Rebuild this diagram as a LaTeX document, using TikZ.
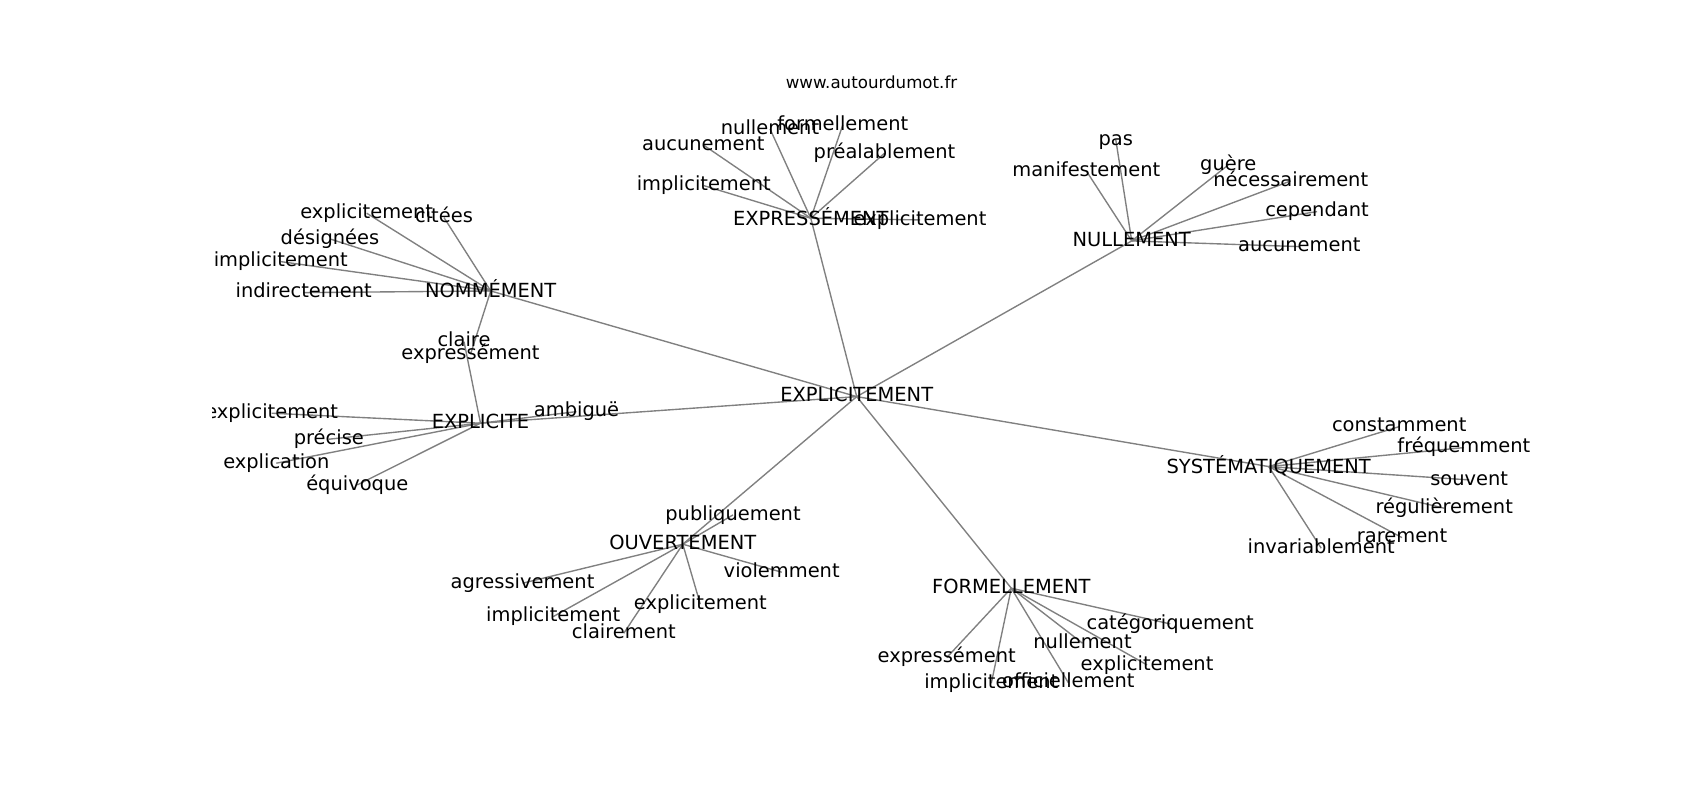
\documentclass[tikz,border=0pt]{standalone}
\usepackage{fontspec}
\setmainfont{DejaVu Sans}
\pgfdeclarelayer{bg}
\pgfsetlayers{bg,main}
\begin{document}
\begin{tikzpicture}[x=0.5pt,y=-0.5pt,
  lbl/.style={font=\fontsize{9.72}{11}\selectfont, inner sep=0pt, outer sep=0pt,
    text height=7.39pt, text depth=2.29pt, anchor=base},
  acc/.style={text height=9.04pt},
  edge/.style={draw=gray, line width=0.69pt}]
\useasboundingbox (0,0) rectangle (1700,800);
\node[font=\fontsize{8.33}{10}\selectfont, inner sep=0pt, anchor=base] (title) at (871.5,88.3) {www.autourdumot.fr};
\begin{scope}
\clip (212.5,96) rectangle (1530,712);
% hubs
\node[lbl] (C) at (856.7,401.7) {EXPLICITEMENT};
\node[lbl,acc] (N) at (490.7,297.7) {NOMMÉMENT};
\node[lbl] (E) at (480.5,428.3) {EXPLICITE};
\node[lbl,acc] (X) at (810.8,225) {EXPRESSÉMENT};
\node[lbl] (U) at (1131.7,246) {NULLEMENT};
\node[lbl,acc] (S) at (1268.7,473.3) {SYSTÉMATIQUEMENT};
\node[lbl] (F) at (1011.3,593.3) {FORMELLEMENT};
\node[lbl] (O) at (682.8,549.3) {OUVERTEMENT};
% NOMMEMENT group
\node[lbl] (n1) at (366.7,218.3) {explicitement};
\node[lbl] (n2) at (444,222.7) {citées};
\node[lbl] (n3) at (330,244) {désignées};
\node[lbl] (n4) at (280.8,266.7) {implicitement};
\node[lbl] (n5) at (303.7,297.7) {indirectement};
\node[lbl] (n6) at (470.5,359.3) {expressément};
% EXPLICITE group
\node[lbl] (e1) at (464,346.7) {claire};
\node[lbl] (e2) at (271.7,418.3) {explicitement};
\node[lbl] (e3) at (328.8,444.3) {précise};
\node[lbl] (e4) at (276.3,468.3) {explication};
\node[lbl] (e5) at (357.3,490) {équivoque};
\node[lbl] (e6) at (576.5,416.7) {ambiguë};
% EXPRESSEMENT group
\node[lbl] (x1) at (770,134) {nullement};
\node[lbl] (x2) at (842.8,130) {formellement};
\node[lbl] (x3) at (703.3,150) {aucunement};
\node[lbl] (x4) at (884.5,158.3) {préalablement};
\node[lbl] (x5) at (703.8,190.7) {implicitement};
\node[lbl] (x6) at (920,225) {explicitement};
% NULLEMENT group
\node[lbl] (u1) at (1115.8,145) {pas};
\node[lbl] (u2) at (1086.3,176) {manifestement};
\node[lbl] (u3) at (1228.3,170) {guère};
\node[lbl] (u4) at (1290.7,186) {nécessairement};
\node[lbl] (u5) at (1317,216.7) {cependant};
\node[lbl] (u6) at (1299.3,251.7) {aucunement};
% SYSTEMATIQUEMENT group
\node[lbl] (s1) at (1399.2,431.7) {constamment};
\node[lbl] (s2) at (1463.8,452.7) {fréquemment};
\node[lbl] (s3) at (1469.2,485) {souvent};
\node[lbl] (s4) at (1444.2,513.3) {régulièrement};
\node[lbl] (s5) at (1402,542.7) {rarement};
\node[lbl] (s6) at (1321.2,553.3) {invariablement};
% FORMELLEMENT group
\node[lbl] (f1) at (1170.2,629) {catégoriquement};
\node[lbl] (f2) at (1082.5,648.3) {nullement};
\node[lbl] (f3) at (946.7,662.7) {expressément};
\node[lbl] (f4) at (1147,670) {explicitement};
\node[lbl] (f5) at (991.3,688.3) {implicitement};
\node[lbl] (f6) at (1068.3,687.7) {officiellement};
% OUVERTEMENT group
\node[lbl] (o1) at (733,520) {publiquement};
\node[lbl] (o2) at (522.5,588.3) {agressivement};
\node[lbl] (o3) at (781.7,577.3) {violemment};
\node[lbl] (o4) at (700.3,609.3) {explicitement};
\node[lbl] (o5) at (553.2,621.7) {implicitement};
\node[lbl] (o6) at (623.8,638.3) {clairement};
\end{scope}
\begin{pgfonlayer}{bg}
\foreach \a/\b in {C/N,C/E,C/X,C/U,C/S,C/F,C/O,
  N/n1,N/n2,N/n3,N/n4,N/n5,N/n6,
  E/e1,E/e2,E/e3,E/e4,E/e5,E/e6,
  X/x1,X/x2,X/x3,X/x4,X/x5,X/x6,
  U/u1,U/u2,U/u3,U/u4,U/u5,U/u6,
  S/s1,S/s2,S/s3,S/s4,S/s5,S/s6,
  F/f1,F/f2,F/f3,F/f4,F/f5,F/f6,
  O/o1,O/o2,O/o3,O/o4,O/o5,O/o6}
  \draw[edge] (\a.center) -- (\b.center);
\end{pgfonlayer}
\end{tikzpicture}
\end{document}
